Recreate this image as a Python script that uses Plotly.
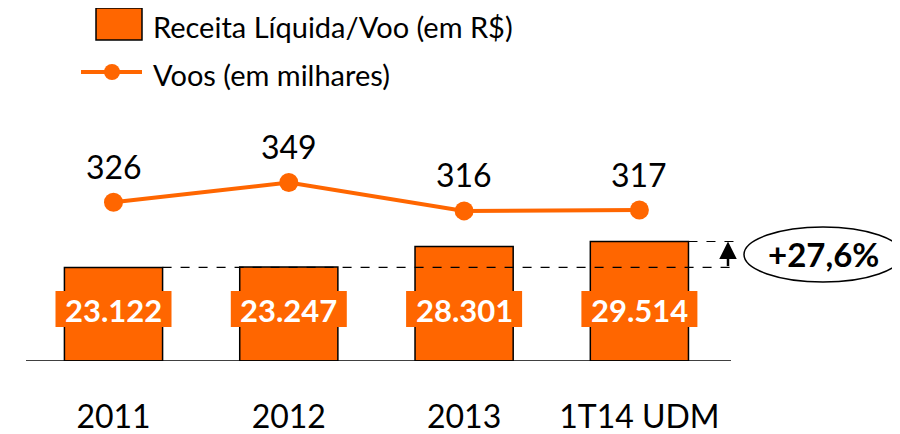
import plotly.graph_objects as go

# categories and values
categories = ["2011", "2012", "2013", "1T14 UDM"]
receita_por_voo = [23122, 23247, 28301, 29514]   # R$
voos_milhares = [326, 349, 316, 317]

ORANGE = "#FF6600"
FONT = "Lato, 'Open Sans', sans-serif"

# the page puts the figure 8px in from the corner, so the figure is 8px smaller
OFF = 8
W, H = 900 - OFF, 434 - OFF
BASE = 361              # window pixel row of the zero line
X0, DX = 113.5, 175.3   # window pixel centre of first category, pixels per category
Y_PER_PX = 247.0        # bar units per pixel
V_PX, V_REF, V_SCALE = 202.3, 326, 0.86  # line axis: pixel row of 326, px per unit


def px_x(p):
    return (p - X0) / DX


def px_y(p):
    return (BASE - p) * Y_PER_PX


def px_y2(p):
    return V_REF + (V_PX - p) / V_SCALE


def fmt_thousands(v):
    return f"{v:,}".replace(",", ".")


xs = list(range(len(categories)))
half_bar = 0.28

fig = go.Figure()
fig.add_trace(go.Bar(
    x=xs, y=receita_por_voo, width=2 * half_bar,
    marker=dict(color=ORANGE, line=dict(color="black", width=1.5)),
    showlegend=False, hoverinfo="skip",
))
fig.add_trace(go.Scatter(
    x=xs, y=voos_milhares, yaxis="y2", mode="lines+markers",
    line=dict(color=ORANGE, width=4), marker=dict(size=19, color=ORANGE),
    showlegend=False, hoverinfo="skip",
))

shapes = []
annotations = []

# baseline
shapes.append(dict(type="line", x0=px_x(26), x1=px_x(731), y0=0, y1=0,
                   line=dict(color="black", width=1.5)))

# dashed reference lines and growth arrow
shapes.append(dict(type="line", x0=xs[0] + half_bar, x1=px_x(735),
                   y0=receita_por_voo[0], y1=receita_por_voo[0],
                   line=dict(color="black", width=1.2, dash="dash")))
shapes.append(dict(type="line", x0=xs[-1] + half_bar, x1=px_x(735),
                   y0=receita_por_voo[-1], y1=receita_por_voo[-1],
                   line=dict(color="black", width=1.2, dash="dash")))
annotations.append(dict(x=px_x(728), y=receita_por_voo[-1], xref="x", yref="y", text="",
                        showarrow=True, ax=0, ay=26, arrowhead=2, arrowsize=1.4,
                        arrowwidth=2.5, arrowcolor="black"))

growth = (receita_por_voo[-1] / receita_por_voo[0] - 1) * 100
shapes.append(dict(type="circle", x0=px_x(744), x1=px_x(902), y0=px_y(282), y1=px_y(227),
                   line=dict(color="black", width=1.5), fillcolor="white"))
annotations.append(dict(x=px_x(823), y=px_y(254), xref="x", yref="y",
                        text=f"<b>+{growth:.1f}%</b>".replace(".", ","), showarrow=False,
                        font=dict(family=FONT, size=33, color="black")))

# value boxes on the bars
for x, v in zip(xs, receita_por_voo):
    shapes.append(dict(type="rect", x0=x - 58 / DX, x1=x + 58 / DX, y0=px_y(327), y1=px_y(291),
                       fillcolor=ORANGE, line=dict(width=0)))
    annotations.append(dict(x=x, y=px_y(310), xref="x", yref="y", text=f"<b>{fmt_thousands(v)}</b>",
                            showarrow=False, font=dict(family=FONT, size=31, color="white")))

# flight labels above the markers
for x, v in zip(xs, voos_milhares):
    annotations.append(dict(x=x, y=v, xref="x", yref="y2", text=str(v), yshift=36,
                            showarrow=False, font=dict(family=FONT, size=32, color="black")))

# hand-drawn legend
shapes.append(dict(type="rect", x0=px_x(96), x1=px_x(142), y0=px_y(40), y1=px_y(8),
                   fillcolor=ORANGE, line=dict(color="black", width=1.5)))
shapes.append(dict(type="line", x0=px_x(81), x1=px_x(142), y0=px_y(72), y1=px_y(72),
                   line=dict(color=ORANGE, width=4)))
shapes.append(dict(type="circle", x0=px_x(104), x1=px_x(120), y0=px_y(80), y1=px_y(64),
                   fillcolor=ORANGE, line=dict(color=ORANGE, width=0)))
annotations.append(dict(x=px_x(151), y=px_y(26), xref="x", yref="y", xanchor="left",
                        text="Receita Líquida/Voo (em R$)", showarrow=False,
                        font=dict(family=FONT, size=29, color="black")))
annotations.append(dict(x=px_x(151), y=px_y(74), xref="x", yref="y", xanchor="left",
                        text="Voos (em milhares)", showarrow=False,
                        font=dict(family=FONT, size=29, color="black")))

fig.update_layout(
    width=W, height=H,
    margin=dict(l=0, r=0, t=0, b=H - (BASE - OFF), pad=0, autoexpand=False),
    plot_bgcolor="white", paper_bgcolor="white",
    font=dict(family=FONT, color="black"),
    xaxis=dict(range=[px_x(OFF), px_x(900)], tickvals=xs, ticktext=categories,
               showgrid=False, zeroline=False, showline=False, ticks="", automargin=False,
               tickfont=dict(size=32), ticklabelstandoff=34, fixedrange=True),
    yaxis=dict(range=[0, px_y(OFF)], visible=False, automargin=False, fixedrange=True),
    yaxis2=dict(range=[px_y2(BASE), px_y2(OFF)], overlaying="y", visible=False,
                automargin=False, fixedrange=True),
    shapes=shapes,
    annotations=annotations,
    showlegend=False,
)

fig.write_html("out.html")
